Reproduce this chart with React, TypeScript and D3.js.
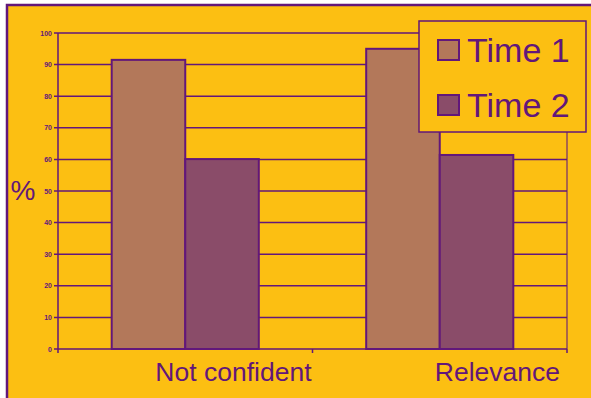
import React from "react";
import * as d3 from "d3";

const categories = ["Not confident", "Relevance"];
const seriesNames = ["Time 1", "Time 2"];
const time1 = [91.5, 95];
const time2 = [60.1, 61.4];
const yTicks = [0, 10, 20, 30, 40, 50, 60, 70, 80, 90, 100];

const BG = "#FCBF12";
const PURPLE = "#62177A";
const C1 = "#B3785A";
const C2 = "#8A4C69";

export default function App() {
  const W = 591, H = 398;
  const x0 = 58, x1 = 567, yTop = 33, yBot = 349;
  const x = d3.scaleBand<string>().domain(categories).range([x0, x1]).paddingInner(0).paddingOuter(0);
  const xs = d3.scaleBand<string>().domain(seriesNames).range([0, x.bandwidth()]).paddingInner(0).paddingOuter(0.73);
  const y = d3.scaleLinear().domain([0, 100]).range([yBot, yTop]);
  const series = [time1, time2];
  const colors = [C1, C2];
  const labelEndOffsets = [-1, -7];
  return (
    <svg width={W} height={H} style={{ position: "absolute", left: 0, top: 0 }} fontFamily="'Liberation Sans', Arial, sans-serif">
      <rect x={0} y={0} width={W} height={H} fill="#fff" />
      <rect x={7} y={5} width={W + 10} height={H + 10} fill={BG} stroke={PURPLE} strokeWidth={2.5} />
      {yTicks.map((t) => (
        <g key={t}>
          <line x1={x0 - 4} x2={x1} y1={y(t)} y2={y(t)} stroke={PURPLE} strokeWidth={1.5} />
          <text x={52} y={y(t) + 2.5} fontSize={7} fontWeight="bold" textAnchor="end" fill={PURPLE}>{t}</text>
        </g>
      ))}
      <line x1={x0} x2={x0} y1={yTop} y2={yBot + 4} stroke={PURPLE} strokeWidth={1.5} />
      <line x1={x1} x2={x1} y1={yTop} y2={yBot} stroke={PURPLE} strokeWidth={1.5} opacity={0.7} />
      {categories.map((c) => (
        <line key={"t" + c} x1={(x(c) as number) + x.bandwidth()} x2={(x(c) as number) + x.bandwidth()} y1={yBot} y2={yBot + 4} stroke={PURPLE} strokeWidth={1.5} />
      ))}
      {categories.map((c, i) =>
        series.map((s, j) => (
          <rect
            key={c + j}
            x={(x(c) as number) + (xs(seriesNames[j]) as number)}
            y={y(s[i])}
            width={xs.bandwidth()}
            height={yBot - y(s[i])}
            fill={colors[j]}
            stroke={PURPLE}
            strokeWidth={2}
          />
        ))
      )}
      {categories.map((c, i) => (
        <text key={"l" + c} x={(x(c) as number) + x.bandwidth() + labelEndOffsets[i]} y={381} fontSize={26.5} textAnchor="end" fill={PURPLE}>{c}</text>
      ))}
      <text x={23} y={200} fontSize={28} textAnchor="middle" fill={PURPLE}>%</text>
      <rect x={419} y={21} width={167} height={111} fill={BG} stroke={PURPLE} strokeWidth={1.5} />
      {seriesNames.map((s, j) => (
        <g key={"lg" + s}>
          <rect x={438} y={40 + j * 55} width={21} height={20} fill={colors[j]} stroke={PURPLE} strokeWidth={2} />
          <text x={467} y={62 + j * 55} fontSize={34} fill={PURPLE}>{s}</text>
        </g>
      ))}
    </svg>
  );
}
